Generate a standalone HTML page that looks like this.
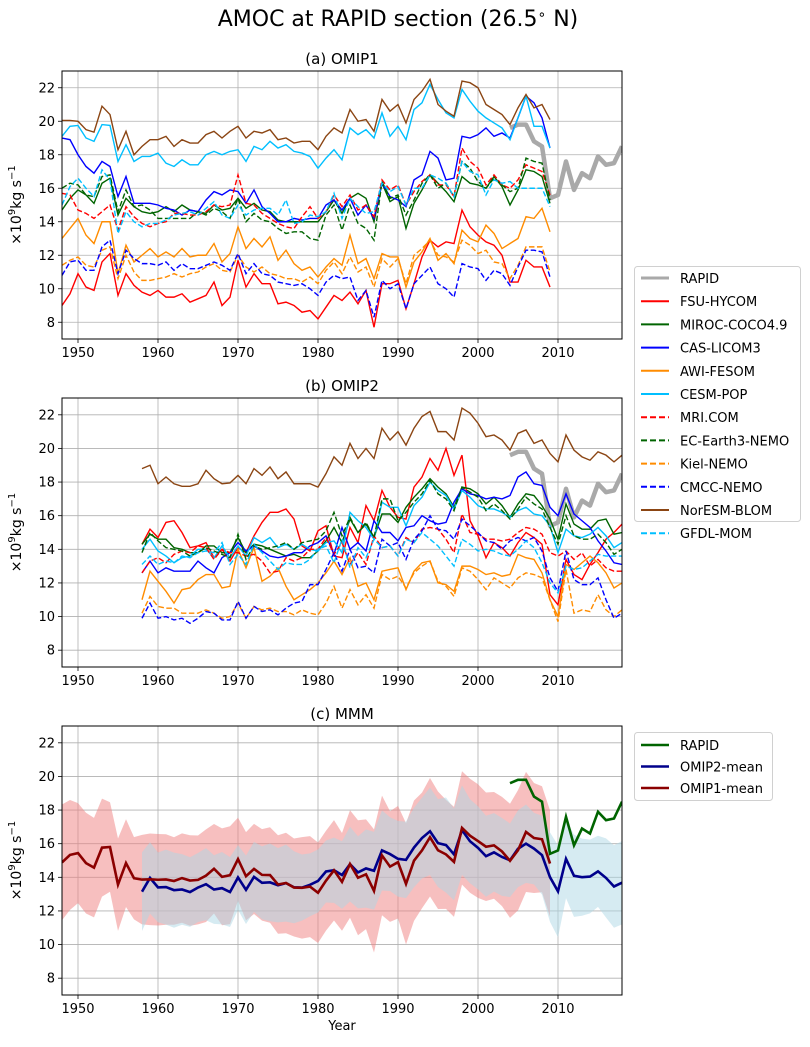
<!DOCTYPE html>
<html><head><meta charset="utf-8"><style>
body{margin:0;background:#fff;}
svg text{font-family:"DejaVu Sans","Liberation Sans",sans-serif;fill:#000;}
</style></head><body>
<svg id="fig" width="810" height="1042" xmlns="http://www.w3.org/2000/svg">
<text x="398" y="26" font-size="22" text-anchor="middle">AMOC at RAPID section (26.5<tspan font-size="14" dy="-7">∘</tspan><tspan dy="7"> N)</tspan></text>
</svg>
<script>
const yrsA0=1948, yrsB0=1958, rapid0=2004;
const rapid=[19.6,19.8,19.8,18.8,18.5,15.4,15.6,17.6,15.9,16.9,16.6,17.9,17.4,17.5,18.5];
// OMIP1 1948-2009
const a_fsu=[9.0,9.7,10.9,10.1,9.9,11.6,12.1,9.6,10.9,10.2,9.8,9.6,9.9,9.5,9.5,9.7,9.2,9.4,9.6,10.4,9.0,9.5,11.7,10.1,10.9,10.3,10.3,9.1,9.2,9.0,8.6,8.7,8.2,8.9,9.6,9.3,9.8,9.1,9.9,7.7,10.3,10.3,10.5,8.8,10.3,11.9,12.9,12.5,12.8,12.7,14.7,13.7,13.2,12.8,12.6,12.0,10.4,10.4,11.7,11.3,11.3,10.1];
const a_miroc=[14.7,15.4,15.9,15.6,15.1,16.3,16.6,14.4,15.4,14.9,14.6,14.5,14.6,14.9,14.6,15.0,14.7,14.6,14.5,15.0,14.7,14.8,15.4,14.8,15.1,14.7,14.6,14.1,14.0,14.0,14.0,14.0,14.0,14.6,15.3,14.5,15.4,15.7,15.4,14.0,16.3,15.2,15.5,13.6,15.1,15.9,16.8,16.3,15.8,15.2,16.7,16.3,16.2,16.0,16.7,16.1,15.0,15.9,17.1,17.0,16.7,15.1];
const a_cas=[19.0,18.9,18.0,17.3,16.9,17.6,17.3,15.5,16.7,15.1,15.1,15.1,15.0,14.8,14.7,14.4,14.7,14.6,15.3,15.8,15.6,15.9,15.8,15.1,15.9,14.9,14.5,14.0,14.0,14.2,14.1,14.2,14.2,15.0,15.3,14.7,15.4,14.4,15.0,14.2,16.3,15.5,15.3,14.9,16.5,16.8,18.2,17.8,16.5,16.6,19.1,19.0,19.2,19.6,19.1,19.3,19.0,20.2,21.5,21.1,20.2,18.4];
const a_awi=[13.0,13.6,14.2,13.2,12.7,14.0,14.0,10.9,12.6,11.6,12.0,12.4,11.9,12.2,11.9,12.4,11.9,12.0,12.0,12.7,11.6,12.1,13.7,12.4,13.0,12.5,13.1,11.7,12.3,11.5,11.1,11.3,10.7,11.3,11.8,11.4,13.2,11.5,11.8,10.6,12.1,11.9,11.9,10.1,11.6,12.2,13.0,11.7,12.1,11.5,13.5,13.0,12.8,13.8,13.3,12.4,12.7,13.0,14.3,14.2,14.8,13.4];
const a_cesm=[19.1,19.7,19.75,19.0,18.8,19.8,19.75,17.6,18.6,17.6,17.9,17.9,18.1,17.5,17.3,17.7,17.4,17.4,18.0,18.2,18.0,18.2,18.3,17.6,18.5,18.3,18.8,18.4,18.6,18.2,18.1,17.9,17.2,17.8,18.3,17.7,19.6,19.2,19.5,19.0,20.5,19.1,19.7,18.9,20.7,21.1,22.2,21.3,20.5,20.2,21.9,21.2,20.6,20.2,19.9,19.6,18.9,20.2,21.5,19.7,19.7,18.4];
const a_mri=[15.7,15.6,14.7,14.5,14.2,14.6,15.0,13.5,14.9,14.3,13.9,13.7,13.9,14.0,14.5,14.5,14.4,14.4,14.6,15.0,14.9,15.0,16.8,15.1,15.0,14.5,14.2,13.9,13.7,13.6,14.3,14.9,14.2,14.6,15.6,14.9,15.6,14.7,15.0,14.3,16.5,15.9,16.2,15.0,15.8,16.4,16.8,16.2,16.2,15.5,18.4,17.6,17.2,16.2,16.8,16.2,16.0,16.5,17.4,17.2,17.0,15.6];
const a_ec=[16.0,16.3,16.2,15.6,15.5,16.7,16.8,14.6,15.9,14.9,15.0,14.7,14.2,14.2,14.2,14.2,14.2,14.6,14.4,14.8,14.6,14.2,15.4,14.0,14.5,14.1,14.0,13.6,13.3,13.4,13.4,13.0,12.9,14.4,15.0,13.5,15.0,13.9,13.6,12.9,16.4,15.4,15.6,14.4,15.3,16.3,16.8,16.0,16.3,15.5,17.6,17.2,16.4,16.0,16.6,16.2,15.8,16.0,17.8,17.6,17.5,15.3];
const a_kiel=[11.4,11.7,11.9,11.4,11.3,12.3,12.5,10.6,12.0,11.0,10.5,10.5,10.6,10.7,10.9,10.7,10.9,11.0,11.3,11.5,11.1,11.0,12.0,11.3,11.0,11.3,10.9,10.8,10.6,10.6,10.4,10.7,10.3,11.1,11.6,10.9,11.9,11.0,11.3,10.1,11.8,11.3,11.8,10.3,12.0,12.4,12.9,12.0,11.9,11.6,12.9,12.6,12.1,12.3,11.6,11.5,10.6,11.4,12.5,12.5,12.5,11.0];
const a_cmcc=[10.8,11.6,11.7,11.1,11.1,12.5,12.9,10.9,12.3,11.8,11.5,11.5,11.4,11.6,11.1,11.5,11.2,11.2,11.4,11.6,11.4,11.1,12.1,10.9,11.5,10.9,10.8,10.4,10.3,10.2,10.3,10.0,9.6,10.4,10.8,10.6,10.7,9.3,9.9,8.3,10.5,10.0,10.3,8.8,10.3,10.8,11.3,10.3,10.0,9.5,11.5,11.3,11.2,10.5,11.1,10.9,10.2,11.3,12.3,12.3,12.2,10.7];
const a_nor=[20.05,20.05,20.0,19.5,19.35,20.9,20.4,18.3,19.4,18.0,18.5,18.9,18.9,19.1,18.5,18.9,18.7,18.7,19.2,19.4,19.0,19.4,19.7,19.0,19.4,19.3,19.5,18.9,19.0,18.7,18.8,18.8,18.3,19.1,19.6,19.3,20.7,20.0,20.1,19.4,21.3,20.6,21.0,19.9,21.3,21.8,22.5,21.0,20.6,20.3,22.4,22.3,22.0,21.0,20.7,20.4,19.8,20.8,21.6,20.8,21.0,20.1];
const a_gfdl=[15.0,16.1,16.6,16.0,15.5,17.1,16.5,13.3,14.6,14.0,13.7,13.9,13.9,14.1,14.4,14.5,14.6,14.4,14.8,15.2,14.4,14.2,15.0,14.4,14.7,14.8,14.8,14.4,15.3,13.9,14.0,14.4,14.3,14.6,15.7,14.2,15.4,14.9,14.5,14.6,16.3,15.8,16.1,15.0,16.0,16.0,16.8,16.6,16.3,15.5,17.6,17.0,16.8,15.6,16.5,16.3,16.4,16.0,16.0,16.0,16.0,14.9];
// OMIP2 1958-2018
const b_fsu=[14.3,15.2,14.7,15.6,15.7,15.0,14.1,14.2,14.4,13.5,14.0,13.3,14.1,13.8,14.8,15.6,16.2,16.2,16.4,15.8,14.2,13.9,15.1,15.4,13.6,13.5,15.3,14.4,16.6,15.7,17.5,16.5,15.9,15.8,17.7,18.3,19.4,18.7,20.0,18.4,19.6,15.7,14.8,13.5,14.4,14.1,13.6,14.4,15.0,14.7,14.3,11.3,10.7,13.4,12.5,12.2,13.1,13.8,14.6,15.0,15.5];
const b_miroc=[14.3,14.9,14.6,14.6,14.1,14.0,13.8,13.8,14.2,14.2,13.8,13.8,14.7,13.8,14.3,14.2,14.0,13.8,13.6,13.7,13.5,13.5,13.9,14.5,15.3,14.4,15.8,15.0,15.5,14.7,16.1,16.1,15.6,16.5,17.1,17.6,18.2,17.7,17.3,16.5,17.7,17.6,17.3,16.7,17.1,16.6,15.9,16.7,17.3,17.2,16.6,15.8,14.6,16.7,15.5,15.2,15.2,15.7,15.8,14.9,15.0];
const b_cas=[12.6,13.3,12.6,12.9,12.7,12.7,12.7,13.3,12.9,12.6,13.5,13.8,14.4,13.9,14.2,13.9,13.6,13.5,13.6,13.8,13.8,14.2,14.4,14.8,13.7,15.3,14.0,14.4,13.9,15.7,15.0,15.0,14.5,15.3,15.4,16.0,15.7,15.5,15.6,16.8,17.6,17.3,17.2,17.0,17.1,17.0,17.2,18.3,18.6,17.9,17.8,16.5,16.0,17.3,16.1,15.7,15.3,14.5,13.9,13.2,13.1];
const b_awi=[11.0,12.7,12.1,11.5,10.8,11.6,11.7,12.2,12.5,12.5,11.7,11.8,14.0,12.9,14.1,12.1,12.4,12.9,11.8,11.0,11.3,11.6,12.0,12.6,13.3,12.5,13.5,11.8,12.0,11.0,12.7,12.8,12.9,11.6,12.7,13.2,13.3,12.0,11.9,11.5,13.0,13.0,12.8,12.5,12.6,12.4,12.5,13.7,13.5,13.4,12.6,11.0,10.0,13.1,12.8,13.2,13.6,13.2,12.6,11.7,12.0];
const b_cesm=[14.0,14.6,13.9,13.6,13.2,13.5,13.6,14.0,14.0,13.5,14.2,13.5,14.2,13.6,14.7,14.4,14.7,14.1,14.3,14.0,14.3,14.0,13.9,14.4,14.5,13.8,16.2,15.7,15.3,14.6,16.8,16.5,16.5,15.4,16.6,17.1,18.0,17.5,17.2,16.4,17.5,17.1,16.6,16.4,16.4,16.2,15.9,16.3,16.5,16.1,16.0,15.4,13.8,15.2,14.8,14.7,14.9,15.3,14.8,14.1,14.4];
const b_mri=[12.6,13.3,13.5,13.2,13.7,13.9,13.8,14.2,14.1,13.4,14.0,13.8,13.8,13.6,13.7,13.3,12.6,12.7,13.5,13.3,13.5,14.0,14.0,14.7,13.7,14.4,13.1,13.8,13.1,14.8,14.1,14.2,13.6,14.7,14.4,15.2,15.3,15.2,14.6,13.8,16.1,15.0,14.9,14.6,14.6,14.5,14.6,15.0,15.3,15.2,14.9,13.8,13.6,13.9,13.4,13.8,13.0,13.4,12.9,12.7,12.7];
const b_ec=[13.8,15.0,14.5,14.1,14.0,13.9,13.6,13.8,14.1,13.9,13.7,13.5,14.9,13.4,14.2,14.0,14.1,14.2,14.4,14.0,14.4,14.5,14.6,15.1,16.2,14.8,15.9,15.0,15.6,14.7,17.0,17.0,15.7,16.2,16.8,17.3,18.1,17.3,17.0,16.3,17.7,17.4,17.1,16.3,16.7,16.3,15.8,16.4,17.1,16.7,16.4,15.3,14.3,16.0,14.8,14.6,14.6,14.9,14.4,13.7,14.0];
const b_kiel=[10.2,11.2,10.6,10.5,10.5,10.2,10.2,10.2,10.4,10.2,9.9,10.0,10.8,9.9,10.6,10.4,10.5,10.3,10.3,10.1,10.4,10.2,10.1,10.8,11.8,10.5,11.6,10.7,11.3,10.5,12.5,12.2,12.4,11.7,12.6,13.0,13.3,12.1,11.8,11.2,12.9,12.7,12.2,11.6,12.3,12.0,11.7,12.3,12.6,12.5,12.3,11.0,9.7,12.8,10.2,10.4,10.3,11.3,10.4,10.0,10.4];
const b_cmcc=[9.9,10.8,9.9,10.0,9.8,9.9,9.6,9.9,10.3,10.2,9.8,9.8,10.9,9.9,10.6,10.3,10.4,10.1,10.5,10.8,10.9,11.9,11.9,12.8,13.8,12.7,14.0,12.9,13.0,12.6,14.6,14.2,14.4,13.4,14.6,15.1,16.0,15.2,15.1,14.6,15.8,15.4,15.0,14.5,14.4,14.0,14.5,14.7,14.5,14.7,13.9,12.3,11.5,13.9,12.2,11.9,11.9,12.3,11.0,9.9,10.2];
const b_nor=[18.8,19.0,17.9,18.3,17.9,17.75,17.75,17.9,18.7,18.2,17.9,17.95,18.4,17.9,18.8,18.4,18.9,18.2,18.6,17.9,17.9,17.9,17.7,18.5,19.5,19.0,20.3,19.4,20.0,19.4,21.2,20.5,21.0,20.2,21.2,21.9,22.2,21.0,21.0,20.5,22.4,22.1,21.5,20.7,20.8,20.5,19.9,20.9,21.1,20.3,20.5,19.7,19.2,20.8,19.9,19.5,19.3,19.8,19.6,19.2,19.6];
const b_gfdl=[13.1,13.6,13.1,13.3,13.2,13.6,13.5,13.8,13.9,13.8,14.4,13.1,13.7,13.1,14.3,13.8,13.3,12.8,13.2,13.1,13.1,13.4,14.0,14.2,13.2,14.6,12.9,14.1,13.5,14.6,14.1,14.2,13.6,14.6,14.4,15.0,14.6,14.2,13.6,13.0,14.6,14.3,13.9,14.0,13.9,13.7,13.6,14.0,14.5,14.1,13.2,12.0,11.4,13.0,12.8,12.9,13.3,13.7,13.6,13.6,13.6];
const modelNames=["FSU-HYCOM","MIROC-COCO4.9","CAS-LICOM3","AWI-FESOM","CESM-POP","MRI.COM","EC-Earth3-NEMO","Kiel-NEMO","CMCC-NEMO","NorESM-BLOM","GFDL-MOM"];
const colors=["#ff0000","#006400","#0000ff","#ff8c00","#00bfff","#ff0000","#006400","#ff8c00","#0000ff","#8b4513","#00bfff"];
const dashed=[false,false,false,false,false,true,true,true,true,false,true];
const seriesA=[a_fsu,a_miroc,a_cas,a_awi,a_cesm,a_mri,a_ec,a_kiel,a_cmcc,a_nor,a_gfdl];
const seriesB=[b_fsu,b_miroc,b_cas,b_awi,b_cesm,b_mri,b_ec,b_kiel,b_cmcc,b_nor,b_gfdl];
const yTicks=[8,10,12,14,16,18,20,22];
const xTicks=[1950,1960,1970,1980,1990,2000,2010];

const NS="http://www.w3.org/2000/svg";
const svg=document.getElementById('fig');
function mk(tag,attrs,parent){const e=document.createElementNS(NS,tag);for(const k in attrs)e.setAttribute(k,attrs[k]);(parent||svg).appendChild(e);return e;}
const L=62,R=622;
function xs(y){return L+(y-1948)/(2018-1948)*(R-L);}
function ysF(top,bot){return v=>bot-(v-7)/(23-7)*(bot-top);}
function pathOf(arr,y0,ys){return arr.map((v,i)=>(i?'L':'M')+xs(y0+i).toFixed(2)+' '+ys(v).toFixed(2)).join(' ');}

function axes(top,bot,title,tname,showYear){
  const ys=ysF(top,bot);
  const g=mk('g',{});
  
  
  xTicks.forEach(t=>{const l=mk('line',{x1:xs(t),x2:xs(t),y1:top,y2:bot,stroke:'#b0b0b0','stroke-width':0.8},g);
    const tk=mk('line',{x1:xs(t),x2:xs(t),y1:bot,y2:bot+4,stroke:'#000','stroke-width':0.8},g);
    const tx=mk('text',{x:xs(t),y:bot+18,'font-size':13,'text-anchor':'middle'},g);tx.textContent=t;});
  yTicks.forEach(t=>{const l=mk('line',{x1:L,x2:R,y1:ys(t),y2:ys(t),stroke:'#b0b0b0','stroke-width':0.8},g);
    mk('line',{x1:L-4,x2:L,y1:ys(t),y2:ys(t),stroke:'#000','stroke-width':0.8},g);
    const tx=mk('text',{x:L-7,y:ys(t)+4.5,'font-size':13,'text-anchor':'end'},g);tx.textContent=t;});
  const tt=mk('text',{x:(L+R)/2,y:top-7,'font-size':15,'text-anchor':'middle'});tt.textContent=title;
  
  
  const yl=mk('text',{x:0,y:0,'font-size':14,'text-anchor':'middle',transform:`translate(21,${(top+bot)/2}) rotate(-90)`});
  yl.innerHTML='×10<tspan font-size="10" dy="-6">9</tspan><tspan dy="6">kg s</tspan><tspan font-size="10" dy="-6">−1</tspan>';
  
  
  if(showYear){const xl=mk('text',{x:(L+R)/2,y:bot+35,'font-size':13,'text-anchor':'middle'});xl.textContent='Year';}
  return ys;
}
function frame(top,bot){const f=mk('rect',{x:L,y:top,width:R-L,height:bot-top,fill:'none',stroke:'#000','stroke-width':1});}
function clipFor(id,top,bot){const d=mk('defs',{});const c=mk('clipPath',{id:id},d);mk('rect',{x:L,y:top,width:R-L,height:bot-top},c);}

function modelPanel(top,bot,series,y0,title,tname,id){
  const ys=axes(top,bot,title,tname,false);
  clipFor(id,top,bot);
  const g=mk('g',{'clip-path':`url(#${id})`});
  const r=mk('path',{d:pathOf(rapid,rapid0,ys),fill:'none',stroke:'#a9a9a9','stroke-width':4.5,'stroke-linejoin':'round'},g);
  
  
  series.forEach((s,i)=>{const p=mk('path',{d:pathOf(s,y0,ys),fill:'none',stroke:colors[i],'stroke-width':1.4,'stroke-dasharray':dashed[i]?'5.5,2.5':'none'},g);
    
    });
  frame(top,bot);
}
modelPanel(71,339,seriesA,yrsA0,'(a) OMIP1','panel-a','ca');
modelPanel(398,667,seriesB,yrsB0,'(b) OMIP2','panel-b','cb');

// panel c
function stats(series){const n=series[0].length;const m=[],s=[];for(let i=0;i<n;i++){const v=series.map(a=>a[i]);const mu=v.reduce((p,q)=>p+q,0)/v.length;const sd=Math.sqrt(v.reduce((p,q)=>p+(q-mu)*(q-mu),0)/v.length);m.push(mu);s.push(sd);}return {m,s};}
(function(){
  const top=726,bot=995;
  const ys=axes(top,bot,'(c) MMM','panel-c',true);
  clipFor('cc',top,bot);
  const g=mk('g',{'clip-path':'url(#cc)'});
  const A=stats(seriesA),B=stats(seriesB);
  function band(st,y0){const up=st.m.map((v,i)=>[xs(y0+i),ys(v+st.s[i])]);const lo=st.m.map((v,i)=>[xs(y0+i),ys(v-st.s[i])]).reverse();return 'M'+up.concat(lo).map(p=>p[0].toFixed(2)+' '+p[1].toFixed(2)).join(' L')+'Z';}
  const ba=mk('path',{d:band(A,yrsA0),fill:'#f08080','fill-opacity':0.5,stroke:'none'},g);
  
  
  const bb=mk('path',{d:band(B,yrsB0),fill:'#add8e6','fill-opacity':0.5,stroke:'none'},g);
  
  
  const r=mk('path',{d:pathOf(rapid,rapid0,ys),fill:'none',stroke:'#006400','stroke-width':2.6},g);
  
  
  const l2=mk('path',{d:pathOf(B.m,yrsB0,ys),fill:'none',stroke:'#00008b','stroke-width':2.6},g);
  
  
  const l1=mk('path',{d:pathOf(A.m,yrsA0,ys),fill:'none',stroke:'#8b0000','stroke-width':2.6},g);
  
  
  frame(top,bot);
})();

// legends
(function(){
  const lg=mk('g',{});
  
  
  mk('rect',{x:634.5,y:266.5,width:166,height:255,rx:3,fill:'#fff',stroke:'#d0d0d0'},lg);
  const names=['RAPID'].concat(modelNames),cols=['#a9a9a9'].concat(colors),ds=[false].concat(dashed);
  names.forEach((n,i)=>{const y=278+i*23.2;
    const e=mk('g',{},lg);
    mk('line',{x1:641,x2:669,y1:y,y2:y,stroke:cols[i],'stroke-width':i==0?3:2,'stroke-dasharray':ds[i]?'6,3':'none'},e);
    const t=mk('text',{x:680,y:y+5,'font-size':13},e);t.textContent=n;});
  const lc=mk('g',{});
  
  
  mk('rect',{x:634.5,y:732.5,width:138,height:68,rx:3,fill:'#fff',stroke:'#d0d0d0'},lc);
  [['RAPID','#006400'],['OMIP2-mean','#00008b'],['OMIP1-mean','#8b0000']].forEach((p,i)=>{const y=745+i*21.5;
    const e=mk('g',{},lc);
    mk('line',{x1:641,x2:669,y1:y,y2:y,stroke:p[1],'stroke-width':2.5},e);
    const t=mk('text',{x:680,y:y+5,'font-size':13},e);t.textContent=p[0];});
})();
</script>
</body></html>
